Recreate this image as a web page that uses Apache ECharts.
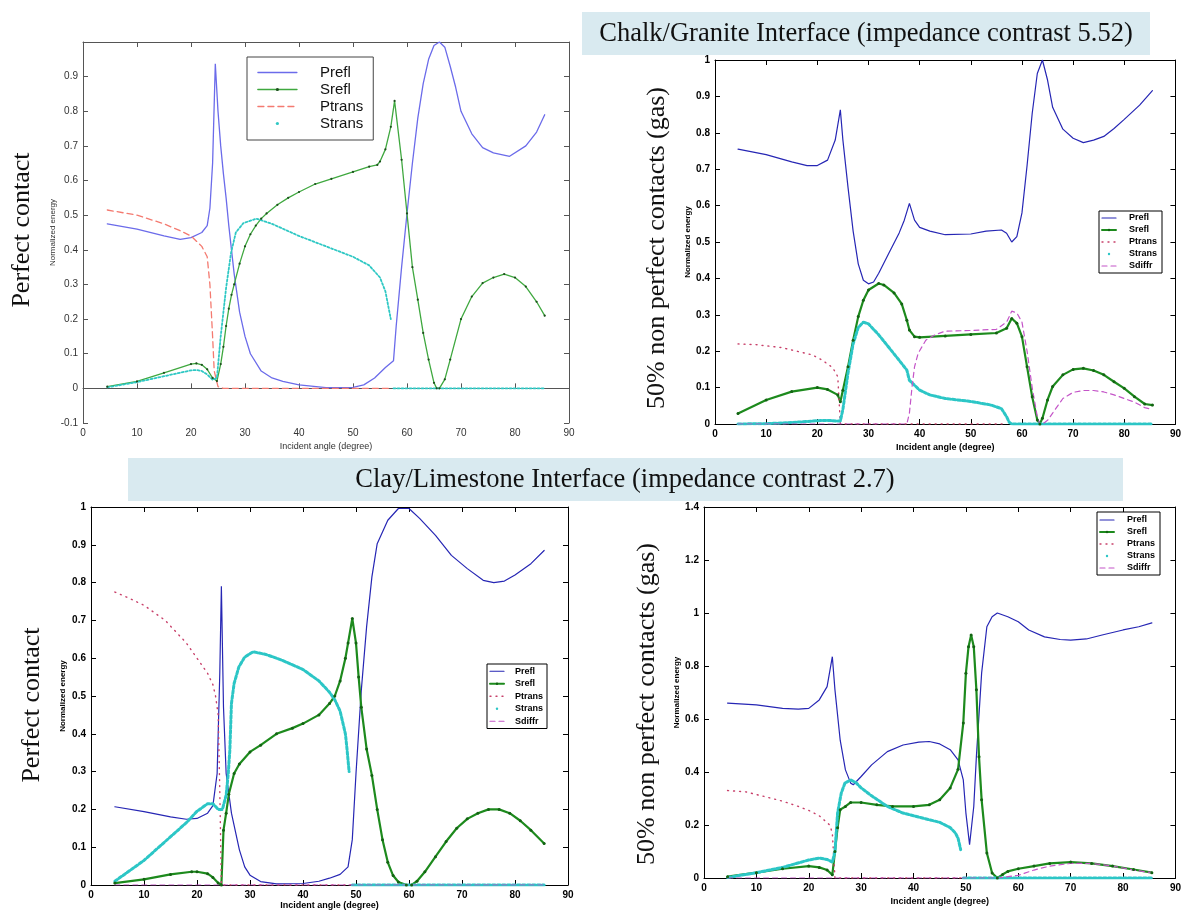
<!DOCTYPE html>
<html><head><meta charset="utf-8">
<script src="https://cdn.jsdelivr.net/npm/echarts@6/dist/echarts.min.js"></script>
<style>html,body{margin:0;padding:0;background:#fff}#c{width:1184px;height:911px}</style>
</head><body><div id="c"></div>
<script>
// ---------- DATA ----------
const seriesNames4 = ['Prefl','Srefl','Ptrans','Strans'];
const seriesNames5 = ['Prefl','Srefl','Ptrans','Strans','Sdiffr'];
const titleTop = 'Chalk/Granite Interface (impedance contrast 5.52)';
const titleBottom = 'Clay/Limestone Interface (impedance contrast 2.7)';
const sideLabelPerfect = 'Perfect contact';
const sideLabelGas = '50% non perfect contacts (gas)';
const xAxisTitle = 'Incident angle (degree)';
const yAxisTitle = 'Normalized energy';

// Plot 1: Chalk/Granite, perfect contact
const p1Prefl = [[4.5,0.475],[10,0.46],[15,0.44],[18,0.43],[20,0.435],[22,0.45],[23,0.47],[23.5,0.52],[24,0.65],[24.5,0.937],[25,0.8],[25.5,0.7],[26,0.62],[26.5,0.55],[27,0.47],[27.5,0.4],[28,0.33],[29,0.22],[30,0.15],[31,0.1],[33,0.05],[35,0.03],[37,0.02],[40,0.01],[45,0.002],[50,0.003],[52,0.01],[54,0.03],[56,0.06],[57.5,0.08],[58,0.18],[59,0.35],[60,0.505],[61,0.65],[62,0.78],[63,0.88],[64,0.95],[65,0.99],[66,1.0],[67,0.985],[68,0.93],[69,0.87],[70,0.8],[72,0.735],[74,0.695],[76,0.68],[79,0.67],[82,0.7],[84,0.74],[85.5,0.79]];
const p1Srefl = [[4.5,0.005],[10,0.02],[15,0.045],[20,0.07],[21,0.072],[22,0.068],[23,0.055],[24,0.03],[24.8,0.021],[25.5,0.07],[26,0.12],[26.5,0.18],[27,0.23],[27.5,0.27],[28,0.3],[29,0.36],[30,0.41],[31,0.445],[32,0.47],[33,0.49],[34,0.505],[36,0.53],[38,0.55],[40,0.567],[43,0.59],[46,0.605],[50,0.625],[53,0.64],[54.5,0.645],[55,0.655],[56,0.69],[57,0.755],[57.7,0.83],[59,0.66],[60,0.505],[61,0.35],[62,0.256],[63,0.16],[64,0.083],[65,0.016],[65.5,0],[66,0],[67,0.026],[68,0.083],[70,0.2],[72,0.265],[74,0.304],[76,0.32],[78,0.33],[80,0.32],[82,0.294],[84,0.25],[85.5,0.21]];
const p1Ptrans = [[4.5,0.515],[10,0.5],[15,0.475],[18,0.455],[20,0.44],[22,0.41],[23,0.38],[23.5,0.3],[24,0.15],[24.3,0.05],[25,0.005],[26,0],[35,0],[45,0],[57,0]];
const p1Strans = [[4.5,0.003],[10,0.018],[15,0.035],[20,0.052],[21,0.053],[22,0.05],[23,0.04],[24,0.025],[24.8,0.03],[25.5,0.15],[26.5,0.29],[27.4,0.39],[28.3,0.45],[29.7,0.477],[32.1,0.49],[35,0.475],[40,0.44],[45,0.41],[50,0.38],[53,0.355],[55,0.32],[56,0.28],[56.5,0.24],[57,0.2],[57.2,'-'],[57.5,0],[65,0],[75,0],[85.5,0]];

// Plot 2: Chalk/Granite, 50% non perfect contacts
const p2Prefl = [[4.5,0.755],[10,0.74],[15,0.72],[18,0.71],[20,0.71],[22,0.725],[23.5,0.78],[24.5,0.863],[25,0.78],[26,0.65],[27,0.53],[28,0.44],[29,0.395],[30,0.385],[31,0.39],[32,0.414],[34,0.47],[36,0.525],[37,0.56],[38,0.606],[39,0.56],[40,0.54],[42,0.53],[45,0.52],[50,0.522],[53,0.53],[56,0.533],[57,0.524],[58,0.5],[59,0.515],[60,0.58],[61,0.71],[62,0.853],[63,0.963],[64,1.0],[65,0.945],[66,0.87],[68,0.81],[70,0.785],[72,0.773],[74,0.78],[76,0.79],[78,0.812],[80,0.837],[83,0.876],[85.5,0.916]];
const p2Srefl = [[4.5,0.029],[10,0.066],[15,0.089],[20,0.1],[22,0.095],[24,0.08],[24.5,0.061],[25,0.093],[26,0.157],[27,0.23],[28,0.295],[29,0.34],[30,0.368],[32,0.386],[33,0.382],[35,0.36],[36.5,0.33],[37.5,0.285],[38,0.258],[39,0.24],[40,0.238],[45,0.242],[50,0.246],[55,0.25],[57,0.263],[58,0.29],[59,0.277],[60,0.24],[61,0.157],[62,0.075],[63,0.011],[63.5,0],[64,0.016],[65,0.066],[66,0.103],[68,0.135],[70,0.15],[72,0.153],[74,0.147],[76,0.135],[78,0.116],[80,0.098],[82,0.075],[84,0.055],[85.5,0.052]];
const p2Ptrans = [[4.5,0.22],[8,0.218],[13,0.21],[16,0.2],[19,0.19],[21,0.175],[23,0.155],[24,0.13],[24.5,0],[30,0],[40,0],[50,0],[57,0]];
const p2Strans = [[4.5,0],[10,0.001],[15,0.004],[20,0.009],[22,0.01],[24,0.008],[24.5,0.008],[25,0.04],[26,0.14],[27,0.22],[28,0.265],[29,0.28],[30,0.275],[32,0.245],[34,0.21],[36,0.175],[37.5,0.148],[38,0.12],[40,0.093],[42,0.08],[45,0.07],[50,0.062],[54,0.052],[56,0.042],[57,0.02],[57.5,0.005],[58,0],[65,0],[75,0],[85.5,0]];
const p2Sdiffr = [[4.5,0],[20,0],[37.5,0],[38,0.03],[38.5,0.1],[39,0.157],[39.7,0.194],[41.2,0.23],[43,0.245],[45,0.255],[50,0.257],[55,0.26],[57,0.28],[58,0.31],[59,0.305],[60,0.28],[61,0.2],[62,0.1],[63,0.02],[63.5,0],[64,0],[65,0.01],[66,0.03],[68,0.07],[70,0.087],[72,0.092],[74,0.092],[76,0.088],[78,0.08],[80,0.07],[82,0.06],[84,0.045],[85.5,0.04]];

// Plot 3: Clay/Limestone, perfect contact
const p3Prefl = [[4.5,0.207],[10,0.194],[15,0.18],[18,0.174],[20,0.176],[22,0.19],[23,0.21],[23.8,0.295],[24.3,0.56],[24.6,0.79],[25,0.47],[25.5,0.295],[26.5,0.19],[28,0.093],[29,0.048],[30,0.026],[32,0.009],[35,0.003],[40,0.004],[43,0.01],[45,0.018],[47,0.028],[48.5,0.048],[49.3,0.12],[50,0.295],[51,0.515],[52,0.683],[53,0.815],[54,0.903],[56,0.965],[58,0.996],[60,0.996],[62,0.97],[65,0.925],[68,0.872],[71,0.837],[74,0.806],[76,0.8],[78,0.804],[80,0.82],[83,0.85],[85.5,0.885]];
const p3Srefl = [[4.5,0.005],[10,0.015],[15,0.028],[19,0.035],[20,0.035],[22,0.03],[23,0.02],[24,0.005],[24.6,0],[25,0.145],[25.5,0.19],[26,0.24],[27,0.295],[28,0.32],[30,0.352],[32,0.37],[35,0.4],[38,0.415],[40,0.427],[43,0.45],[45,0.48],[46,0.5],[47,0.54],[48,0.6],[48.5,0.64],[49.3,0.705],[50,0.64],[50.5,0.55],[51,0.47],[52,0.36],[53,0.29],[54,0.2],[55,0.12],[56,0.06],[57,0.025],[58,0.008],[59.5,0],[60.5,0],[61.5,0.01],[63,0.035],[65,0.075],[67,0.115],[69,0.15],[71,0.175],[73,0.19],[75,0.2],[77,0.2],[79,0.19],[81,0.17],[83,0.145],[85.5,0.11]];
const p3Ptrans = [[4.5,0.775],[7,0.76],[10,0.74],[12,0.72],[14,0.7],[16,0.67],[18,0.64],[20,0.6],[22,0.56],[23,0.53],[23.5,0.5],[24,0.45],[24.3,0.25],[24.6,0],[40,0],[60,0],[85.5,0]];
const p3Strans = [[4.5,0.01],[6,0.025],[8,0.045],[10,0.065],[12,0.09],[14,0.115],[16,0.14],[18,0.165],[20,0.195],[22,0.215],[23,0.215],[24,0.2],[24.8,0.2],[25.5,0.238],[25.9,0.295],[26.2,0.357],[26.5,0.48],[27,0.533],[27.9,0.577],[29,0.603],[30.6,0.617],[33,0.61],[36,0.595],[40,0.57],[43,0.54],[45,0.51],[46,0.49],[47,0.46],[47.5,0.43],[48,0.4],[48.3,0.36],[48.7,0.3],[49,'-'],[49.3,0],[60,0],[70,0],[85.5,0]];
const p3Sdiffr = [[4.5,0],[20,0],[40,0],[60,0],[85.5,0]];

// Plot 4: Clay/Limestone, 50% non perfect contacts
const p4Prefl = [[4.5,0.66],[10,0.653],[15,0.64],[18,0.637],[20,0.64],[22,0.672],[23.5,0.722],[24.5,0.835],[25,0.71],[26,0.52],[27,0.408],[28,0.358],[28.5,0.352],[30,0.383],[32,0.427],[35,0.477],[38,0.502],[41,0.513],[43,0.515],[45,0.506],[47,0.484],[48.5,0.446],[49.5,0.37],[50,0.245],[50.7,0.126],[51.5,0.27],[52,0.458],[53,0.773],[54,0.948],[55,0.986],[56,1.0],[58,0.986],[60,0.967],[62,0.936],[65,0.91],[68,0.9],[70,0.898],[73,0.902],[76,0.917],[80,0.936],[83,0.948],[85.5,0.963]];
const p4Srefl = [[4.5,0.005],[10,0.02],[15,0.035],[20,0.045],[22,0.04],[23.5,0.03],[24.5,0.012],[25,0.1],[25.5,0.19],[26,0.258],[27,0.27],[28,0.285],[30,0.285],[33,0.276],[36,0.27],[40,0.27],[43,0.276],[45,0.295],[47,0.34],[48.5,0.41],[49.5,0.585],[50,0.773],[50.5,0.873],[51,0.917],[51.5,0.873],[52,0.71],[52.5,0.458],[53,0.295],[54,0.094],[55,0.019],[56,0],[57,0.013],[58,0.025],[60,0.035],[63,0.045],[66,0.055],[70,0.06],[74,0.055],[78,0.045],[82,0.032],[85.5,0.02]];
const p4Ptrans = [[4.5,0.33],[8,0.325],[12,0.305],[15,0.29],[18,0.27],[20,0.255],[22,0.235],[24,0.2],[24.5,0.17],[25,0],[40,0],[60,0],[85.5,0]];
const p4Strans = [[4.5,0.002],[10,0.02],[15,0.04],[20,0.068],[22,0.075],[23.5,0.07],[24.5,0.06],[25,0.1],[25.5,0.245],[26.2,0.32],[26.9,0.358],[28,0.37],[29,0.36],[30,0.34],[32,0.31],[35,0.27],[38,0.245],[40,0.235],[43,0.22],[45,0.21],[47,0.19],[48,0.17],[48.5,0.15],[49,0.107],[49.2,'-'],[49.5,0],[60,0],[70,0],[85.5,0]];
const p4Sdiffr = [[4.5,0],[20,0],[40,0],[56,0],[58,0.005],[60,0.01],[63,0.03],[66,0.045],[70,0.055],[74,0.055],[78,0.045],[82,0.03],[85.5,0.02]];

// ---------- STYLES ----------
const styleLight = {
  Prefl: {color:'#6b6bea', w:1.3},
  Srefl: {color:'#3fa83f', w:1.3, sym:'circle', symSize:2.2, symColor:'#1d4d1d', legendDot:true, legendW:1.6},
  Ptrans:{color:'#f47a70', w:1.3, dash:[6,4]},
  Strans:{color:'#2fc8c4', w:1.8, dash:[2,2], legendDot:true, legendNoLine:true}
};
const styleDark = {
  Prefl: {color:'#2626b4', w:1.2},
  Srefl: {color:'#1d8a1d', w:2.2, sym:'circle', symSize:3, symColor:'#136313', legendDot:true},
  Ptrans:{color:'#c8406a', w:1.4, dash:[1,5]},
  Strans:{color:'#2cc6c6', w:3, dash:[3,2], legendDot:true, legendNoLine:true},
  Sdiffr:{color:'#c455c8', w:1.2, dash:[5,4]}
};

const grids = [
  {left:83, top:42, width:486, height:381},
  {left:715, top:60, width:463, height:364},
  {left:91, top:507, width:477, height:378},
  {left:704, top:507, width:474, height:371}
];
const yRanges = [{min:-0.1,max:1,interval:0.1},{min:0,max:1,interval:0.1},{min:0,max:1,interval:0.1},{min:0,max:1.4,interval:0.2}];

function mkSeries(gi, name, data, st){
  return {
    type:'line', name, xAxisIndex:gi, yAxisIndex:gi, data, connectNulls:false,
    symbol: st.sym || 'none', symbolSize: st.symSize || 2, showSymbol: !!st.sym, showAllSymbol:true,
    itemStyle:{color: st.symColor || st.color},
    lineStyle:{color: st.color, width: st.w, type: st.dash || 'solid', cap:'round'},
    silent:true, animation:false, emphasis:{disabled:true}
  };
}
function legendData(names, sty){
  return names.map(n => {
    const s = sty[n];
    return {
      name:n,
      itemStyle:{color: s.legendDot ? (s.symColor || s.color) : 'rgba(0,0,0,0)', opacity: s.legendDot ? 1 : 0, borderWidth:0},
      lineStyle:{color: s.color, width: s.legendW || Math.min(s.w,2), type: s.dash || 'solid', opacity: s.legendNoLine ? 0 : 1}
    };
  });
}

const series = [];
const sets = [
  [p1Prefl,p1Srefl,p1Ptrans,p1Strans],
  [p2Prefl,p2Srefl,p2Ptrans,p2Strans,p2Sdiffr],
  [p3Prefl,p3Srefl,p3Ptrans,p3Strans,p3Sdiffr],
  [p4Prefl,p4Srefl,p4Ptrans,p4Strans,p4Sdiffr]
];
sets.forEach((arr, gi) => {
  const names = gi === 0 ? seriesNames4 : seriesNames5;
  const sty = gi === 0 ? styleLight : styleDark;
  arr.forEach((d, k) => series.push(mkSeries(gi, names[k], d, sty[names[k]])));
});

const xAxes = [], yAxes = [];
grids.forEach((g, i) => {
  const light = i === 0;
  const axCol = light ? '#555' : '#000';
  const lab = {fontSize:10, color: light ? '#333' : '#000', fontWeight: light ? 'normal' : 'bold', fontFamily:'Liberation Sans', margin:5};
  xAxes.push({
    type:'value', gridIndex:i, min:0, max:90, interval:10, position:'bottom',
    axisLine:{show:true, lineStyle:{color:axCol, width:1}}, axisTick:{show:true, inside:true, length:5, lineStyle:{color:axCol}},
    splitLine:{show:false}, axisLabel:Object.assign({}, lab),
    name:xAxisTitle, nameLocation:'middle', nameGap:[19,19,16,19][i],
    nameTextStyle:{fontSize:9, color: light ? '#333' : '#000', fontWeight: light ? 'normal' : 'bold', fontFamily:'Liberation Sans'}
  });
  const yr = yRanges[i];
  yAxes.push({
    type:'value', gridIndex:i, min:yr.min, max:yr.max, interval:yr.interval, position:'left',
    axisLine:{show:true, onZero:false, lineStyle:{color:axCol, width:1}}, axisTick:{show:true, inside:true, length:5, lineStyle:{color:axCol}},
    splitLine:{show:false},
    axisLabel:Object.assign({}, lab, {formatter: v => (light && v > 0.95) ? '' : String(Math.round(v*10)/10)}),
    name:yAxisTitle, nameLocation:'middle', nameRotate:90, nameGap:[26,22,24,22][i],
    nameTextStyle:{fontSize:8, color: light ? '#333' : '#000', fontWeight: light ? 'normal' : 'bold', fontFamily:'Liberation Sans'}
  });
});
grids.forEach((g, i) => {
  const axCol = i === 0 ? '#555' : '#000';
  const yr = yRanges[i];
  xAxes.push({type:'value', gridIndex:i, min:0, max:90, interval:10, position:'top',
    axisLine:{show:true, onZero:false, lineStyle:{color:axCol}}, axisTick:{show:true, inside:true, length:5, lineStyle:{color:axCol}},
    axisLabel:{show:false}, splitLine:{show:false}});
  yAxes.push({type:'value', gridIndex:i, min:yr.min, max:yr.max, interval:yr.interval, position:'right',
    axisLine:{show:true, onZero:false, lineStyle:{color:axCol}}, axisTick:{show:true, inside:true, length:5, lineStyle:{color:axCol}},
    axisLabel:{show:false}, splitLine:{show:false}});
});

const legends = [
  {left:247, top:57, itemWidth:39, itemHeight:4, itemGap:0, padding:[7,10,8,10], borderColor:'#444', borderWidth:1,
   textStyle:{fontSize:15, lineHeight:17, color:'#111', fontFamily:'Liberation Sans', padding:[0,0,0,18]},
   data: legendData(seriesNames4, styleLight)},
  {left:1099, top:211, itemWidth:14, itemHeight:3, itemGap:0, padding:[1,5,1,2], borderColor:'#000', borderWidth:1,
   textStyle:{fontSize:9, lineHeight:12, fontWeight:'bold', color:'#000', fontFamily:'Liberation Sans', padding:[0,0,0,8]},
   data: legendData(seriesNames5, styleDark)},
  {left:487, top:664, itemWidth:14, itemHeight:3, itemGap:0, padding:[1,4,1,2], borderColor:'#000', borderWidth:1,
   textStyle:{fontSize:9, lineHeight:12.5, fontWeight:'bold', color:'#000', fontFamily:'Liberation Sans', padding:[0,0,0,6]},
   data: legendData(seriesNames5, styleDark)},
  {left:1097, top:512, itemWidth:14, itemHeight:3, itemGap:0, padding:[2,5,1,2], borderColor:'#000', borderWidth:1,
   textStyle:{fontSize:9, lineHeight:12, fontWeight:'bold', color:'#000', fontFamily:'Liberation Sans', padding:[0,0,0,8]},
   data: legendData(seriesNames5, styleDark)}
].map(l => Object.assign({orient:'vertical', backgroundColor:'#fff', selectedMode:false}, l));

const serif = '"Liberation Serif", "DejaVu Serif", serif';
const graphic = [
  {type:'rect', shape:{x:582, y:12, width:568, height:43}, style:{fill:'#d9eaf0'}, z:-1},
  {type:'text', x:866, y:34, style:{text:titleTop, font:'26.5px ' + serif, fill:'#111', textAlign:'center', textVerticalAlign:'middle'}},
  {type:'rect', shape:{x:128, y:458, width:995, height:43}, style:{fill:'#d9eaf0'}, z:-1},
  {type:'text', x:625, y:480, style:{text:titleBottom, font:'26.5px ' + serif, fill:'#111', textAlign:'center', textVerticalAlign:'middle'}},
  {type:'text', x:22, y:230, rotation:Math.PI/2, style:{text:sideLabelPerfect, font:'26px ' + serif, fill:'#111', textAlign:'center', textVerticalAlign:'middle'}},
  {type:'text', x:32, y:705, rotation:Math.PI/2, style:{text:sideLabelPerfect, font:'26px ' + serif, fill:'#111', textAlign:'center', textVerticalAlign:'middle'}},
  {type:'text', x:657, y:248, rotation:Math.PI/2, style:{text:sideLabelGas, font:'26px ' + serif, fill:'#111', textAlign:'center', textVerticalAlign:'middle'}},
  {type:'text', x:647, y:704, rotation:Math.PI/2, style:{text:sideLabelGas, font:'26px ' + serif, fill:'#111', textAlign:'center', textVerticalAlign:'middle'}}
];

const chart = echarts.init(document.getElementById('c'), null, {renderer:'canvas'});
chart.setOption({
  animation:false,
  backgroundColor:'#fff',
  textStyle:{fontFamily:'Liberation Sans'},
  grid: grids.map(g => Object.assign({containLabel:false}, g)),
  xAxis: xAxes, yAxis: yAxes,
  legend: legends,
  graphic: graphic,
  series: series
});
</script></body></html>
